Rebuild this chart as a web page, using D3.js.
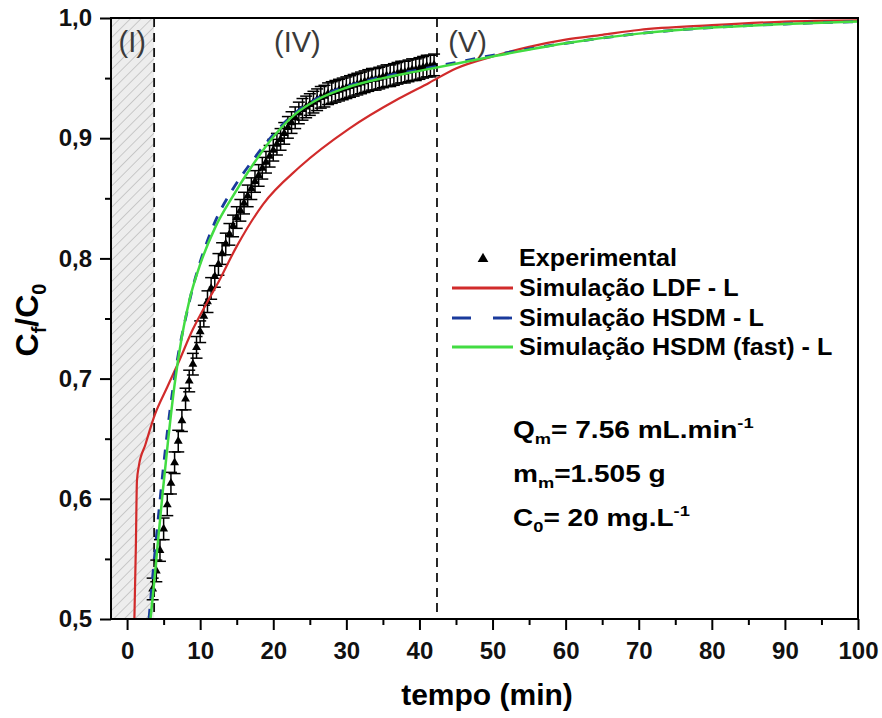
<!DOCTYPE html>
<html>
<head>
<meta charset="utf-8">
<script src="https://cdn.jsdelivr.net/npm/d3@7"></script>
<style>
  body { margin: 0; background: #fff; }
  text { font-family: "Liberation Sans", Arial, sans-serif; }
  .tick text { font-size: 24px; font-weight: bold; fill: #111; }
</style>
</head>
<body>
<svg width="882" height="718"></svg>
<script>
// experimental data (tempo, Cf/C0)
var expT = [3.5, 4, 4.5, 5, 5.5, 6, 6.5, 7, 7.5, 8, 8.5, 9, 9.5, 10, 10.5, 11, 11.5, 12, 12.5, 13,
  13.5, 14, 14.5, 15, 15.5, 16, 16.5, 17, 17.5, 18, 18.5, 19, 19.5, 20, 20.5, 21, 21.5, 22, 22.5, 23,
  23.5, 24, 24.5, 25, 25.5, 26, 26.5, 27, 27.5, 28, 28.5, 29, 29.5, 30, 30.5, 31, 31.5, 32, 32.5, 33,
  33.5, 34, 34.5, 35, 35.5, 36, 36.5, 37, 37.5, 38, 38.5, 39, 39.5, 40, 40.5, 41, 41.5, 42];
var expY = [0.525, 0.54, 0.557, 0.575, 0.595, 0.613, 0.63, 0.648, 0.665, 0.683, 0.698, 0.712, 0.726, 0.739, 0.752, 0.764, 0.775, 0.785, 0.795, 0.804,
  0.812, 0.82, 0.827, 0.834, 0.84, 0.846, 0.852, 0.858, 0.864, 0.869, 0.875, 0.88, 0.885, 0.89, 0.895, 0.899, 0.904, 0.909, 0.913, 0.917,
  0.921, 0.924, 0.926, 0.928, 0.93, 0.932, 0.934, 0.935, 0.937, 0.938, 0.939, 0.94, 0.941, 0.942, 0.943, 0.944, 0.945, 0.946, 0.947, 0.948,
  0.949, 0.949, 0.95, 0.951, 0.952, 0.952, 0.953, 0.954, 0.955, 0.955, 0.956, 0.957, 0.957, 0.958, 0.959, 0.96, 0.96, 0.961];
var expErr = 0.009;

// model curves
var ldfT = [1.0, 1.2, 1.35, 1.6, 2.5, 3.8, 5.5, 7, 9, 11, 12.3, 15, 18.6, 23.6, 30.4, 37.2, 41.3, 45, 50, 55, 60, 65, 70, 80, 90, 100];
var ldfY = [0.5, 0.56, 0.615, 0.627, 0.645, 0.67, 0.693, 0.713, 0.741, 0.764, 0.778, 0.81, 0.845, 0.876, 0.908, 0.933, 0.946, 0.958, 0.968, 0.976, 0.982, 0.986, 0.99, 0.994, 0.997, 0.998];

var hsdmT = [3.0, 3.5, 4.2, 5, 5.9, 7, 8, 9, 10, 12, 14.5, 17, 20, 23, 26, 30, 35, 40, 45, 50, 60, 70, 80, 90, 100];
var hsdmY = [0.5, 0.535, 0.58, 0.628, 0.675, 0.72, 0.75, 0.776, 0.797, 0.83, 0.858, 0.88, 0.903, 0.921, 0.933, 0.943, 0.951, 0.957, 0.963, 0.969, 0.979, 0.987, 0.992, 0.995, 0.997];

var fastT = [3.2, 3.7, 4.2, 4.9, 5.6, 6.5, 7.5, 8.6, 10, 12, 14.5, 17, 20, 23, 26, 30, 35, 40, 45, 50, 60, 70, 80, 90, 100];
var fastY = [0.5, 0.53, 0.563, 0.607, 0.648, 0.695, 0.735, 0.767, 0.795, 0.825, 0.852, 0.876, 0.901, 0.92, 0.932, 0.942, 0.95, 0.956, 0.962, 0.968, 0.979, 0.987, 0.992, 0.995, 0.997];

var xTicks = [0, 10, 20, 30, 40, 50, 60, 70, 80, 90, 100];
var yTicks = [0.5, 0.6, 0.7, 0.8, 0.9, 1.0];
var regionLines = [3.7, 42.4];
var regionLabels = [{ t: 0.7, label: "(I)" }, { t: 23.3, label: "(IV)" }, { t: 46.6, label: "(V)" }];

var svg = d3.select("svg"),
  mLeft = 111, mRight = 858, mTop = 18, mBottom = 619;

var xScale = d3.scaleLinear().domain([-2.2, 100]).range([mLeft, mRight]),
  yScale = d3.scaleLinear().domain([0.5, 1.0]).range([mBottom, mTop]);

function pairs(ts, ys) {
  return ts.map(function (t, i) { return [t, ys[i]]; });
}

// hatched region (I)
var defs = svg.append("defs");
var pat = defs.append("pattern")
  .attr("id", "hatch")
  .attr("patternUnits", "userSpaceOnUse")
  .attr("width", 7.5).attr("height", 7.5)
  .attr("patternTransform", "rotate(45)");
pat.append("rect").attr("width", 7.5).attr("height", 7.5).attr("fill", "#ededed");
pat.append("line").attr("x1", 0).attr("y1", 0).attr("x2", 0).attr("y2", 7.5)
  .attr("stroke", "#ababab").attr("stroke-width", 1.1);

svg.append("rect")
  .attr("x", xScale(-2.2))
  .attr("y", mTop)
  .attr("width", xScale(regionLines[0]) - xScale(-2.2))
  .attr("height", mBottom - mTop)
  .attr("fill", "url(#hatch)");

svg.selectAll(".region")
  .data(regionLines)
  .enter()
  .append("line")
  .attr("x1", function (d) { return xScale(d); })
  .attr("x2", function (d) { return xScale(d); })
  .attr("y1", mTop)
  .attr("y2", mBottom)
  .attr("stroke", "#111")
  .attr("stroke-width", 1.8)
  .attr("stroke-dasharray", "9,6");

svg.selectAll(".rlabel")
  .data(regionLabels)
  .enter()
  .append("text")
  .attr("x", function (d) { return xScale(d.t); })
  .attr("y", 52)
  .attr("text-anchor", "middle")
  .attr("font-size", "29px")
  .attr("fill", "#3a3a3a")
  .text(function (d) { return d.label; });

// error bars + triangles
var expData = pairs(expT, expY);
var eb = svg.append("g").attr("stroke", "#000").attr("stroke-width", 1.5);
expData.forEach(function (d) {
  var x = xScale(d[0]), y1 = yScale(d[1] + expErr), y2 = yScale(d[1] - expErr);
  eb.append("line").attr("x1", x).attr("x2", x).attr("y1", y1).attr("y2", y2);
  eb.append("line").attr("x1", x - 6).attr("x2", x + 6).attr("y1", y1).attr("y2", y1);
  eb.append("line").attr("x1", x - 6).attr("x2", x + 6).attr("y1", y2).attr("y2", y2);
});
svg.selectAll(".pt")
  .data(expData)
  .enter()
  .append("path")
  .attr("d", d3.symbol().type(d3.symbolTriangle).size(34))
  .attr("transform", function (d) { return "translate(" + xScale(d[0]) + "," + yScale(d[1]) + ")"; })
  .attr("fill", "#000");

// model lines
var line = d3.line()
  .x(function (d) { return xScale(d[0]); })
  .y(function (d) { return yScale(d[1]); })
  .curve(d3.curveMonotoneX);

svg.append("path").datum(pairs(ldfT, ldfY))
  .attr("d", line).attr("fill", "none")
  .attr("stroke", "#d12b2b").attr("stroke-width", 2.2);
svg.append("path").datum(pairs(hsdmT, hsdmY))
  .attr("d", line).attr("fill", "none")
  .attr("stroke", "#1a3a9c").attr("stroke-width", 2.8)
  .attr("stroke-dasharray", "10,10");
svg.append("path").datum(pairs(fastT, fastY))
  .attr("d", line).attr("fill", "none")
  .attr("stroke", "#42dc42").attr("stroke-width", 2.5);

// axes
svg.append("g")
  .attr("transform", "translate(0," + mBottom + ")")
  .call(d3.axisBottom(xScale).tickValues(d3.range(5, 100, 10)).tickSize(6).tickSizeOuter(0).tickFormat(""))
  .call(function (g) { g.select(".domain").remove(); g.selectAll("line").attr("stroke-width", 2); });
svg.append("g")
  .attr("transform", "translate(0," + mBottom + ")")
  .call(d3.axisBottom(xScale).tickValues(xTicks).tickSize(11).tickSizeOuter(0).tickPadding(12))
  .call(function (g) { g.select(".domain").remove(); g.selectAll("line").attr("stroke-width", 2); });

svg.append("g")
  .attr("transform", "translate(" + mLeft + ",0)")
  .call(d3.axisLeft(yScale).tickValues([0.55, 0.65, 0.75, 0.85, 0.95]).tickSize(6).tickSizeOuter(0).tickFormat(""))
  .call(function (g) { g.select(".domain").remove(); g.selectAll("line").attr("stroke-width", 2); });
svg.append("g")
  .attr("transform", "translate(" + mLeft + ",0)")
  .call(d3.axisLeft(yScale).tickValues(yTicks).tickSize(11).tickSizeOuter(0).tickPadding(8)
    .tickFormat(function (d) { return d3.format(".1f")(d).replace(".", ","); }))
  .call(function (g) { g.select(".domain").remove(); g.selectAll("line").attr("stroke-width", 2); });

// frame
svg.append("rect")
  .attr("x", mLeft).attr("y", mTop)
  .attr("width", mRight - mLeft).attr("height", mBottom - mTop)
  .attr("fill", "none").attr("stroke", "#000").attr("stroke-width", 2);

// axis titles
svg.append("text")
  .attr("x", 487).attr("y", 705)
  .attr("text-anchor", "middle")
  .attr("font-size", "30px").attr("font-weight", "bold")
  .text("tempo (min)");

var yt = svg.append("text")
  .attr("transform", "translate(38,320) rotate(-90)")
  .attr("text-anchor", "middle")
  .attr("font-size", "32px").attr("font-weight", "bold");
yt.append("tspan").text("C");
yt.append("tspan").attr("font-size", "20px").attr("dy", 8).text("f");
yt.append("tspan").attr("dy", -8).text("/C");
yt.append("tspan").attr("font-size", "20px").attr("dy", 8).text("0");

// legend
svg.append("path")
  .attr("d", d3.symbol().type(d3.symbolTriangle).size(50))
  .attr("transform", "translate(483,259)");
var legendItems = [
  { label: "Experimental", y: 266 },
  { label: "Simulação LDF - L", y: 296, color: "#d12b2b", dash: null },
  { label: "Simulação HSDM - L", y: 326, color: "#1a3a9c", dash: "19,22" },
  { label: "Simulação HSDM (fast) - L", y: 355, color: "#42dc42", dash: null }
];
var legendText = svg.append("g")
  .attr("transform", "translate(519,0) scale(1.095,1)")
  .attr("font-size", "23px").attr("font-weight", "bold");
legendItems.forEach(function (d) {
  legendText.append("text").attr("x", 0).attr("y", d.y).text(d.label);
  if (d.color) {
    svg.append("line")
      .attr("x1", 452).attr("x2", 513)
      .attr("y1", d.y - 8).attr("y2", d.y - 8)
      .attr("stroke", d.color).attr("stroke-width", 2.8)
      .attr("stroke-dasharray", d.dash);
  }
});

// conditions
var notes = svg.append("g")
  .attr("transform", "translate(513,0) scale(1.22,1)")
  .attr("font-size", "23px").attr("font-weight", "bold");
var n1 = notes.append("text").attr("x", 0).attr("y", 438);
n1.append("tspan").text("Q");
n1.append("tspan").attr("font-size", "15px").attr("dy", 6).text("m");
n1.append("tspan").attr("dy", -6).text("= 7.56 mL.min");
n1.append("tspan").attr("font-size", "15px").attr("dy", -10).text("-1");

var n2 = notes.append("text").attr("x", 0).attr("y", 482);
n2.append("tspan").text("m");
n2.append("tspan").attr("font-size", "15px").attr("dy", 6).text("m");
n2.append("tspan").attr("dy", -6).text("=1.505 g");

var n3 = notes.append("text").attr("x", 0).attr("y", 526);
n3.append("tspan").text("C");
n3.append("tspan").attr("font-size", "15px").attr("dy", 6).text("0");
n3.append("tspan").attr("dy", -6).text("= 20 mg.L");
n3.append("tspan").attr("font-size", "15px").attr("dy", -10).text("-1");
</script>
</body>
</html>
